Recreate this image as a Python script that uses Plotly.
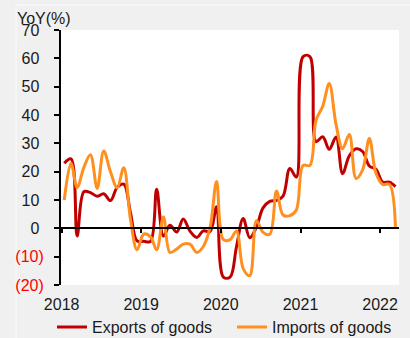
import plotly.graph_objects as go
import pandas as pd

# monthly observations, plotted mid-month (as the reference places them between year ticks)
months = pd.date_range("2018-01-01", "2022-03-01", freq="MS")
months = (months + pd.Timedelta(days=12)).strftime("%Y-%m-%d").tolist()

exports = [23.0, 24.5, -2.7, 12.9, 12.6, 11.3, 12.2, 9.8, 14.5, 15.6, 5.4, -4.4,
           -4.6, -4.6, 13.8, -2.7, 1.1, -1.3, 3.3, -1.0, -3.2, -0.9, -1.1, 7.6,
           -17.2, -17.2, -6.6, 3.5, -3.3, 0.5, 7.2, 9.5, 9.9, 11.4, 21.1, 18.1,
           60.6, 60.6, 30.6, 32.3, 27.9, 32.2, 19.3, 25.6, 28.1, 27.1, 22.0, 20.9,
           16.3, 16.3, 14.7]
imports = [10.0, 23.0, 14.4, 21.5, 26.0, 14.1, 27.3, 20.0, 14.3, 21.4, 3.0, -7.6,
           -2.0, -3.0, -7.6, 4.0, -8.5, -7.3, -5.6, -5.6, -8.5, -6.4, 0.3, 16.5,
           -4.0, -4.0, -0.9, -14.2, -16.7, 2.7, -1.4, -2.1, 13.2, 4.7, 4.5, 6.5,
           22.2, 22.2, 38.1, 43.1, 51.1, 36.7, 28.1, 33.1, 17.6, 20.6, 31.7, 19.5,
           15.5, 15.5, -0.1]

year_ticks = ["2018-01-01", "2019-01-01", "2020-01-01", "2021-01-01", "2022-01-01"]
year_labels = ["2018", "2019", "2020", "2021", "2022"]
y_ticks = [70, 60, 50, 40, 30, 20, 10, 0, -10, -20]
y_labels = ["70\u00a0", "60\u00a0", "50\u00a0", "40\u00a0", "30\u00a0", "20\u00a0", "10\u00a0", "0\u00a0",
            '<span style="color:#ff0000">(10)</span>', '<span style="color:#ff0000">(20)</span>']

RED = "#c00000"
ORANGE = "#ff8f1f"
FONT = "Liberation Sans, Arial, sans-serif"
FS = 16

fig = go.Figure()
fig.add_trace(go.Scatter(x=months, y=exports, name="Exports of goods", mode="lines",
                         legend="legend",
                         line=dict(color=RED, width=3, shape="spline", smoothing=1)))
fig.add_trace(go.Scatter(x=months, y=imports, name="Imports of goods", mode="lines",
                         legend="legend2",
                         line=dict(color=ORANGE, width=3, shape="spline", smoothing=1)))
# helper trace for zero-line axis
fig.add_trace(go.Scatter(x=months[:1], y=[None], xaxis="x2", showlegend=False,
                         hoverinfo="skip", mode="lines"))

xr = ["2017-12-29", "2022-03-29"]
leg_common = dict(orientation="h", xref="container", yref="container",
                  y=0.032, xanchor="left", yanchor="middle",
                  bgcolor="rgba(0,0,0,0)", font=dict(size=FS), borderwidth=0)
fig.update_layout(
    width=410, height=338,
    margin=dict(l=61, r=11, t=30, b=53, autoexpand=False),
    paper_bgcolor="#f0f0f0", plot_bgcolor="#ffffff",
    font=dict(family=FONT, size=FS, color="#1a1a1a"),
    showlegend=True,
    legend=dict(x=52/410, **leg_common),
    legend2=dict(x=232/410, **leg_common),
    xaxis=dict(type="date", range=xr, tickvals=year_ticks, ticktext=year_labels,
               showgrid=False, zeroline=False, showline=False, ticks="",
               ticklabelstandoff=8),
    xaxis2=dict(type="date", range=xr, matches="x", overlaying="x", anchor="free",
                position=20/90, tickvals=year_ticks, showticklabels=False,
                showgrid=False, zeroline=False, showline=True, linecolor="#000000",
                linewidth=1.5, ticks="outside", ticklen=4, tickwidth=1.5,
                tickcolor="#000000"),
    yaxis=dict(range=[-20, 70], tickvals=y_ticks, ticktext=y_labels,
               showgrid=False, zeroline=False, showline=True, linecolor="#000000",
               linewidth=2, ticks="outside", ticklen=5, tickwidth=1.5,
               tickcolor="#000000", ticklabelstandoff=7),
    annotations=[dict(text="YoY(%)", xref="paper", yref="paper", x=-0.136, y=(285-19)/255,
                      xanchor="left", yanchor="middle", showarrow=False,
                      font=dict(size=FS, color="#1a1a1a"))],
    shapes=[dict(type="rect", xref="paper", yref="paper", x0=-0.133, x1=1.2,
                 y0=-0.4, y1=1.098, line=dict(color="#fbfbfb", width=1),
                 fillcolor="rgba(0,0,0,0)", layer="below")],
)

fig.write_html("out.html")
